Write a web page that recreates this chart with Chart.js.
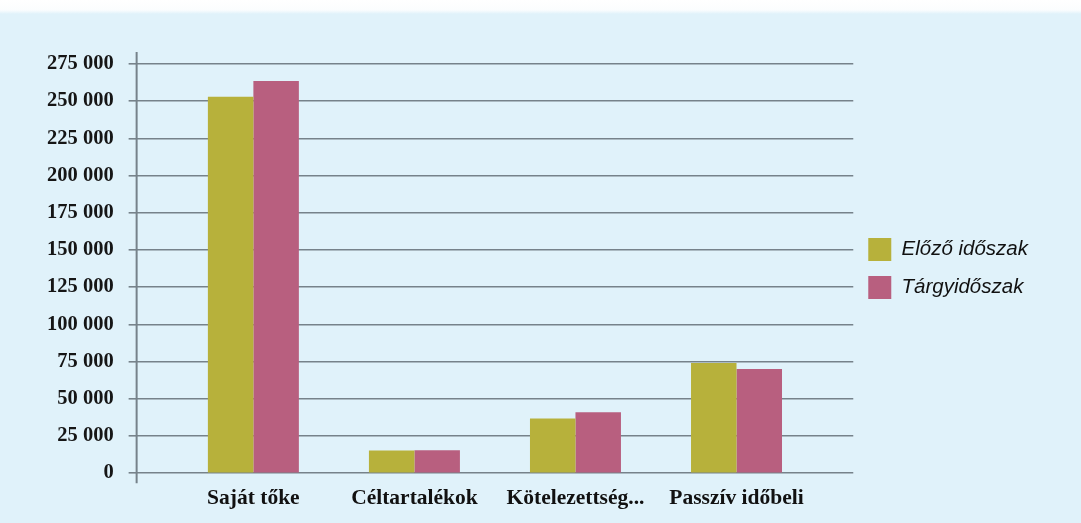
<!DOCTYPE html>
<html>
<head>
<meta charset="utf-8">
<script src="https://cdn.jsdelivr.net/npm/chart.js@4"></script>
<style>
  html, body { margin: 0; padding: 0; background: #e0f2fa; }
  body { width: 1081px; height: 523px; overflow: hidden; }
  #wrap {
    position: relative; width: 1081px; height: 523px;
    background: linear-gradient(to bottom, #ffffff 0px, #fbfdfe 10px, #e0f2fa 14px, #e0f2fa 100%);
  }
  canvas { display: block; }
</style>
</head>
<body>
<div id="wrap"><canvas id="c" width="1081" height="523"></canvas></div>
<script>
// ---- data ----
const categories = ['Saját tőke', 'Céltartalékok', 'Kötelezettség...', 'Passzív időbeli'];
const seriesNames = ['Előző időszak', 'Tárgyidőszak'];
const previousPeriod = [253000, 15200, 36800, 74000];
const currentPeriod  = [263500, 15500, 41000, 70000];
const yTickMin = 0, yTickMax = 275000, yTickStep = 25000;

// ---- styles ----
const OLIVE = '#b7b13b';
const PINK = '#b85f7f';
const GRID = '#76828a';
const EXTRA = 0.225; // extra inset of category band at both ends (fraction of a category)

function fmt(v) {
  return String(Math.round(v)).replace(/\B(?=(\d{3})+(?!\d))/g, ' ');
}

const xInset = {
  id: 'xInset',
  afterLayout(chart) {
    const xs = chart.scales.x;
    const n = xs.getLabels().length;
    const w = (xs.right - xs.left) / (n + 2 * EXTRA);
    xs.left += EXTRA * w;
    xs.right -= EXTRA * w;
    xs.width = xs.right - xs.left;
    xs.configure();
    // centre the legend on the plot area vertically
    const lg = chart.legend;
    if (lg) {
      lg.top = chart.chartArea.top;
      lg.bottom = chart.chartArea.bottom;
      lg.height = lg.bottom - lg.top;
    }
  }
};

const yAxisLine = {
  id: 'yAxisLine',
  beforeDatasetsDraw(chart) {
    const { ctx, chartArea } = chart;
    ctx.save();
    ctx.strokeStyle = GRID;
    ctx.lineWidth = 2;
    ctx.beginPath();
    ctx.moveTo(chartArea.left, chartArea.top - 12);
    ctx.lineTo(chartArea.left, chartArea.bottom + 10);
    ctx.stroke();
    ctx.restore();
  }
};

new Chart(document.getElementById('c'), {
  type: 'bar',
  data: {
    labels: categories,
    datasets: [
      { label: seriesNames[0], data: previousPeriod, backgroundColor: OLIVE, borderWidth: 0 },
      { label: seriesNames[1], data: currentPeriod, backgroundColor: PINK, borderWidth: 0 }
    ]
  },
  options: {
    responsive: false,
    animation: false,
    devicePixelRatio: 1,
    categoryPercentage: 0.565,
    barPercentage: 1.0,
    layout: { padding: { left: 32, right: 43, top: 64, bottom: 8 } },
    plugins: {
      tooltip: { enabled: false },
      legend: {
        position: 'right',
        align: 'center',
        labels: {
          boxWidth: 23,
          boxHeight: 23,
          padding: 15,
          color: '#111111',
          font: { family: "'Liberation Sans', Arial, sans-serif", size: 20.5, style: 'italic' }
        }
      }
    },
    scales: {
      x: {
        type: 'category',
        offset: true,
        grid: { display: false },
        border: { display: false },
        ticks: {
          color: '#111111',
          padding: 4,
          maxRotation: 0,
          autoSkip: false,
          font: { family: "'Liberation Serif', 'Times New Roman', serif", size: 21.5, weight: 'bold' }
        }
      },
      y: {
        min: yTickMin,
        max: yTickMax,
        grid: { color: GRID, lineWidth: 1.6, tickLength: 8, drawTicks: true },
        border: { display: false },
        ticks: {
          stepSize: yTickStep,
          padding: 15,
          color: '#161616',
          font: { family: "'Liberation Serif', 'Times New Roman', serif", size: 20.5, weight: 'bold' },
          callback: (v) => fmt(v)
        }
      }
    }
  },
  plugins: [xInset, yAxisLine]
});
</script>
</body>
</html>
